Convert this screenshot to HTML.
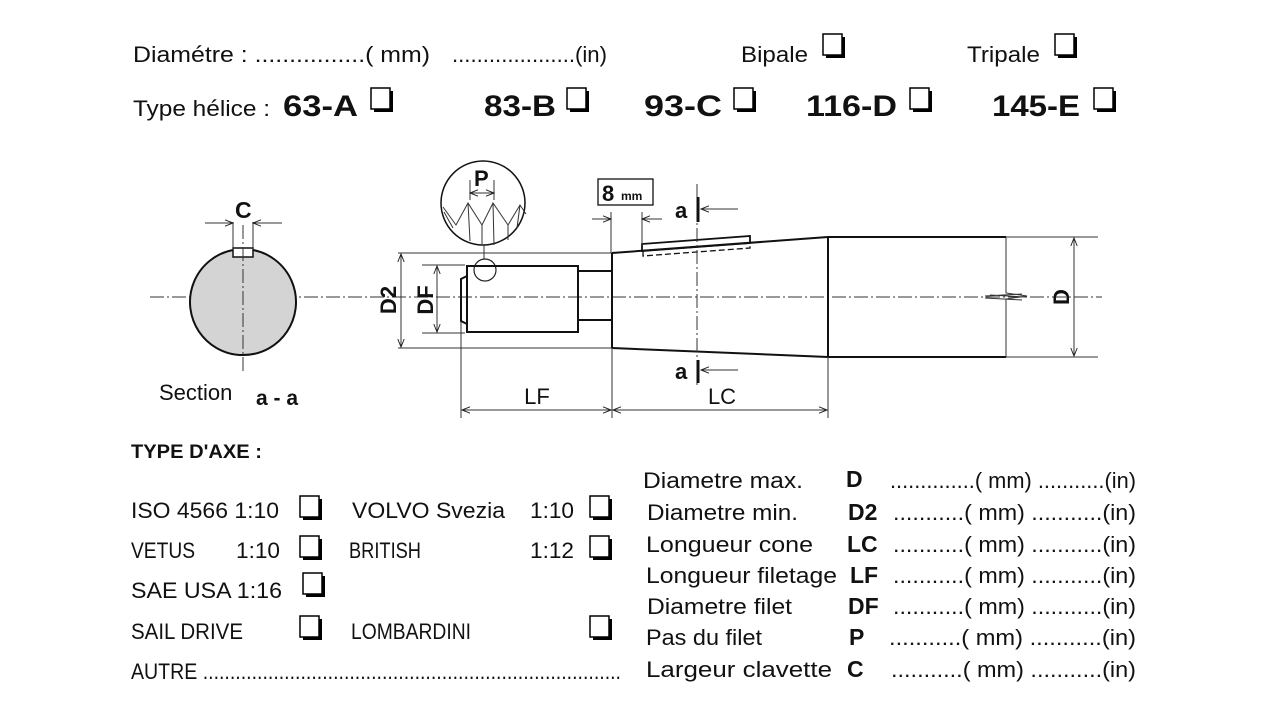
<!DOCTYPE html>
<html><head><meta charset="utf-8"><style>
html,body{margin:0;padding:0;background:#fff;width:1280px;height:720px;overflow:hidden}
svg{display:block}
text{font-family:"Liberation Sans","DejaVu Sans",sans-serif;fill:#111}
.t{font-size:22px}
.b{font-weight:bold}
.th{stroke:#111;stroke-width:2;fill:none}
.tn{stroke:#333;stroke-width:1;fill:none}
.cl{stroke:#333;stroke-width:1;fill:none;stroke-dasharray:14 3 2 3}
</style></head><body>
<svg width="1280" height="720" viewBox="0 0 1280 720">
<defs>
<g id="cb"><rect x="3" y="3" width="19" height="21" fill="#000"/><rect x="0" y="0" width="19" height="21" fill="#fff" stroke="#000" stroke-width="1.5"/></g>
<marker id="ar" viewBox="0 0 10 10" refX="10" refY="5" markerWidth="10" markerHeight="8" orient="auto-start-reverse" markerUnits="userSpaceOnUse"><path d="M0,1 L10,5 L0,9" fill="none" stroke="#222" stroke-width="1.2"/></marker>
</defs>

<!-- Top rows -->
<text class="t" x="133" y="62" textLength="297" lengthAdjust="spacingAndGlyphs">Diamétre :  ................( mm)</text>
<text class="t" x="452" y="62" textLength="155" lengthAdjust="spacingAndGlyphs">....................(in)</text>
<text class="t" x="741" y="62" textLength="67" lengthAdjust="spacingAndGlyphs">Bipale</text>
<use href="#cb" x="823" y="34"/>
<text class="t" x="967" y="62" textLength="73" lengthAdjust="spacingAndGlyphs">Tripale</text>
<use href="#cb" x="1055" y="34"/>

<text class="t" x="133" y="116" textLength="137" lengthAdjust="spacingAndGlyphs">Type hélice :</text>
<text class="b" font-size="30" x="283" y="116" textLength="75" lengthAdjust="spacingAndGlyphs">63-A</text>
<use href="#cb" x="371" y="88"/>
<text class="b" font-size="30" x="484" y="116" textLength="72" lengthAdjust="spacingAndGlyphs">83-B</text>
<use href="#cb" x="567" y="88"/>
<text class="b" font-size="30" x="644" y="116" textLength="78" lengthAdjust="spacingAndGlyphs">93-C</text>
<use href="#cb" x="734" y="88"/>
<text class="b" font-size="30" x="806" y="116" textLength="91" lengthAdjust="spacingAndGlyphs">116-D</text>
<use href="#cb" x="910" y="88"/>
<text class="b" font-size="30" x="992" y="116" textLength="88" lengthAdjust="spacingAndGlyphs">145-E</text>
<use href="#cb" x="1094" y="88"/>

<!-- Centerline -->
<line class="cl" x1="150" y1="297" x2="1102" y2="297"/>

<!-- Section a-a -->
<path d="M233,250 A53,53 0 1 0 253,250 Z" fill="#d4d4d4" stroke="#111" stroke-width="2"/>
<rect x="233" y="248" width="20" height="9" fill="#fff" stroke="#111" stroke-width="1.5"/>
<line class="cl" x1="243" y1="225" x2="243" y2="372"/>
<line class="tn" x1="233" y1="222" x2="233" y2="250"/>
<line class="tn" x1="253" y1="222" x2="253" y2="250"/>
<line class="tn" x1="205" y1="223" x2="233" y2="223" marker-end="url(#ar)"/>
<line class="tn" x1="282" y1="223" x2="253" y2="223" marker-end="url(#ar)"/>
<text class="b" font-size="23" x="235" y="218">C</text>
<text font-size="22" x="159" y="400">Section</text>
<text class="b" font-size="21" x="256" y="405">a - a</text>

<!-- Thread detail -->
<circle cx="483" cy="203" r="42" fill="#fff" stroke="#111" stroke-width="1.5"/>
<path d="M443,207 L456,225 L468,203 L482,225 L493,203 L508,225 L520,205 L526,214" class="tn" stroke-width="1.4"/>
<path d="M444,212 L453,228 M468,203 L470,241 M482,225 L482,245 M493,203 L494,245 M508,225 L508,240 M520,205 L517,228" class="tn"/>
<line class="tn" x1="470" y1="200" x2="470" y2="180"/>
<line class="tn" x1="494" y1="200" x2="494" y2="180"/>
<line class="tn" x1="470" y1="193" x2="494" y2="193" marker-start="url(#ar)" marker-end="url(#ar)"/>
<text class="b" font-size="22" x="474" y="186">P</text>
<line class="tn" x1="484" y1="245" x2="484" y2="259"/>
<circle cx="485" cy="270" r="11" fill="none" stroke="#222" stroke-width="1.2"/>

<!-- D2 / DF -->
<line class="tn" x1="398" y1="253" x2="612" y2="253"/>
<line class="tn" x1="398" y1="348" x2="612" y2="348"/>
<line class="tn" x1="401" y1="254" x2="401" y2="347" marker-start="url(#ar)" marker-end="url(#ar)"/>
<text class="b" font-size="22" transform="translate(396,300) rotate(-90)" text-anchor="middle">D2</text>
<line class="tn" x1="422" y1="265" x2="465" y2="265"/>
<line class="tn" x1="422" y1="333" x2="465" y2="333"/>
<line class="tn" x1="437" y1="266" x2="437" y2="332" marker-start="url(#ar)" marker-end="url(#ar)"/>
<text class="b" font-size="22" transform="translate(433,300) rotate(-90)" text-anchor="middle">DF</text>

<!-- thread body -->
<rect x="467" y="266" width="111" height="66" class="th"/>
<path d="M467,276 L461,279 L461,321 L467,324" class="th"/>
<path d="M578,271 L612,271 M578,320 L612,320" class="th"/>
<line x1="612" y1="253" x2="612" y2="348" class="th"/>
<!-- cone -->
<path d="M612,253 L828,237 M612,348 L828,357" class="th"/>
<line x1="828" y1="237" x2="828" y2="357" class="th"/>
<path d="M828,237 L1006,237 M828,357 L1006,357" class="th"/>
<path d="M1006,237 L1006,293 L1027,296 L1006,299 L1006,357" class="tn"/>
<path d="M985,296 L1022,294 M985,298 L1022,300 M990,295 L1025,297" class="tn" stroke="#666"/>
<!-- key -->
<path d="M642,244 L750,236 L750,243 L642,251 Z" fill="none" stroke="#111" stroke-width="1.8"/>
<path d="M643,251 L643,256 L750,248 L750,243" fill="none" stroke="#111" stroke-width="1.3" stroke-dasharray="6 3"/>

<!-- D dim -->
<line class="tn" x1="1006" y1="237" x2="1098" y2="237"/>
<line class="tn" x1="1006" y1="357" x2="1098" y2="357"/>
<line class="tn" x1="1074" y1="238" x2="1074" y2="356" marker-start="url(#ar)" marker-end="url(#ar)"/>
<text class="b" font-size="22" transform="translate(1069,297) rotate(-90)" text-anchor="middle">D</text>

<!-- 8mm -->
<rect x="598" y="179" width="55" height="26" fill="#fff" stroke="#111" stroke-width="1.3"/>
<text class="b" font-size="22" x="602" y="201">8</text><text class="b" font-size="12" x="621" y="200">mm</text>
<line class="tn" x1="611" y1="212" x2="611" y2="253"/>
<line class="tn" x1="642" y1="212" x2="642" y2="245"/>
<line class="tn" x1="592" y1="219" x2="611" y2="219" marker-end="url(#ar)"/>
<line class="tn" x1="662" y1="219" x2="642" y2="219" marker-end="url(#ar)"/>

<!-- section a-a line -->
<line class="cl" x1="697" y1="184" x2="697" y2="385"/>
<line x1="698" y1="197" x2="698" y2="222" stroke="#111" stroke-width="3"/>
<line x1="698" y1="360" x2="698" y2="383" stroke="#111" stroke-width="3"/>
<line class="tn" x1="738" y1="209" x2="701" y2="209" marker-end="url(#ar)"/>
<line class="tn" x1="738" y1="370" x2="701" y2="370" marker-end="url(#ar)"/>
<text class="b" font-size="22" x="675" y="218">a</text>
<text class="b" font-size="22" x="675" y="379">a</text>

<!-- LF / LC -->
<line class="tn" x1="461" y1="322" x2="461" y2="418"/>
<line class="tn" x1="612" y1="348" x2="612" y2="418"/>
<line class="tn" x1="828" y1="357" x2="828" y2="418"/>
<line class="tn" x1="462" y1="410" x2="611" y2="410" marker-start="url(#ar)" marker-end="url(#ar)"/>
<line class="tn" x1="613" y1="410" x2="827" y2="410" marker-start="url(#ar)" marker-end="url(#ar)"/>
<text font-size="22" x="537" y="404" text-anchor="middle">LF</text>
<text font-size="22" x="722" y="404" text-anchor="middle">LC</text>

<!-- TYPE D'AXE -->
<text class="b" font-size="19" x="131" y="458" textLength="131" lengthAdjust="spacingAndGlyphs">TYPE D'AXE :</text>
<text class="t" x="131" y="518" textLength="148" lengthAdjust="spacingAndGlyphs">ISO 4566  1:10</text>
<use href="#cb" x="300" y="496"/>
<text class="t" x="352" y="518" textLength="153" lengthAdjust="spacingAndGlyphs">VOLVO Svezia</text>
<text class="t" x="530" y="518" textLength="44" lengthAdjust="spacingAndGlyphs">1:10</text>
<use href="#cb" x="590" y="496"/>
<text class="t" x="131" y="558" textLength="64" lengthAdjust="spacingAndGlyphs">VETUS</text>
<text class="t" x="236" y="558" textLength="44" lengthAdjust="spacingAndGlyphs">1:10</text>
<use href="#cb" x="300" y="536"/>
<text class="t" x="349" y="558" textLength="72" lengthAdjust="spacingAndGlyphs">BRITISH</text>
<text class="t" x="530" y="558" textLength="44" lengthAdjust="spacingAndGlyphs">1:12</text>
<use href="#cb" x="590" y="536"/>
<text class="t" x="131" y="598" textLength="151" lengthAdjust="spacingAndGlyphs">SAE USA   1:16</text>
<use href="#cb" x="303" y="573"/>
<text class="t" x="131" y="639" textLength="112" lengthAdjust="spacingAndGlyphs">SAIL DRIVE</text>
<use href="#cb" x="300" y="616"/>
<text class="t" x="351" y="639" textLength="120" lengthAdjust="spacingAndGlyphs">LOMBARDINI</text>
<use href="#cb" x="590" y="616"/>
<text class="t" x="131" y="679" textLength="490" lengthAdjust="spacingAndGlyphs">AUTRE .............................................................................</text>

<!-- Right list -->
<text class="t" x="643" y="488" textLength="160" lengthAdjust="spacingAndGlyphs">Diametre max.</text>
<text class="t" x="647" y="520" textLength="151" lengthAdjust="spacingAndGlyphs">Diametre min.</text>
<text class="t" x="646" y="552" textLength="167" lengthAdjust="spacingAndGlyphs">Longueur cone</text>
<text class="t" x="646" y="583" textLength="191" lengthAdjust="spacingAndGlyphs">Longueur filetage</text>
<text class="t" x="647" y="614" textLength="145" lengthAdjust="spacingAndGlyphs">Diametre filet</text>
<text class="t" x="646" y="645" textLength="116" lengthAdjust="spacingAndGlyphs">Pas du filet</text>
<text class="t" x="646" y="677" textLength="186" lengthAdjust="spacingAndGlyphs">Largeur  clavette</text>
<text class="b" font-size="23" x="846" y="487">D</text>
<text class="b" font-size="23" x="848" y="520">D2</text>
<text class="b" font-size="23" x="847" y="552">LC</text>
<text class="b" font-size="23" x="850" y="583">LF</text>
<text class="b" font-size="23" x="848" y="614">DF</text>
<text class="b" font-size="23" x="849" y="645">P</text>
<text class="b" font-size="23" x="847" y="677">C</text>
<text class="t" x="890" y="488" textLength="246" lengthAdjust="spacingAndGlyphs">..............( mm) ...........(in)</text>
<text class="t" x="893" y="520" textLength="243" lengthAdjust="spacingAndGlyphs">...........( mm) ...........(in)</text>
<text class="t" x="893" y="552" textLength="243" lengthAdjust="spacingAndGlyphs">...........( mm) ...........(in)</text>
<text class="t" x="893" y="583" textLength="243" lengthAdjust="spacingAndGlyphs">...........( mm) ...........(in)</text>
<text class="t" x="893" y="614" textLength="243" lengthAdjust="spacingAndGlyphs">...........( mm) ...........(in)</text>
<text class="t" x="889" y="645" textLength="247" lengthAdjust="spacingAndGlyphs">...........( mm) ...........(in)</text>
<text class="t" x="891" y="677" textLength="245" lengthAdjust="spacingAndGlyphs">...........( mm) ...........(in)</text>
</svg>
</body></html>
